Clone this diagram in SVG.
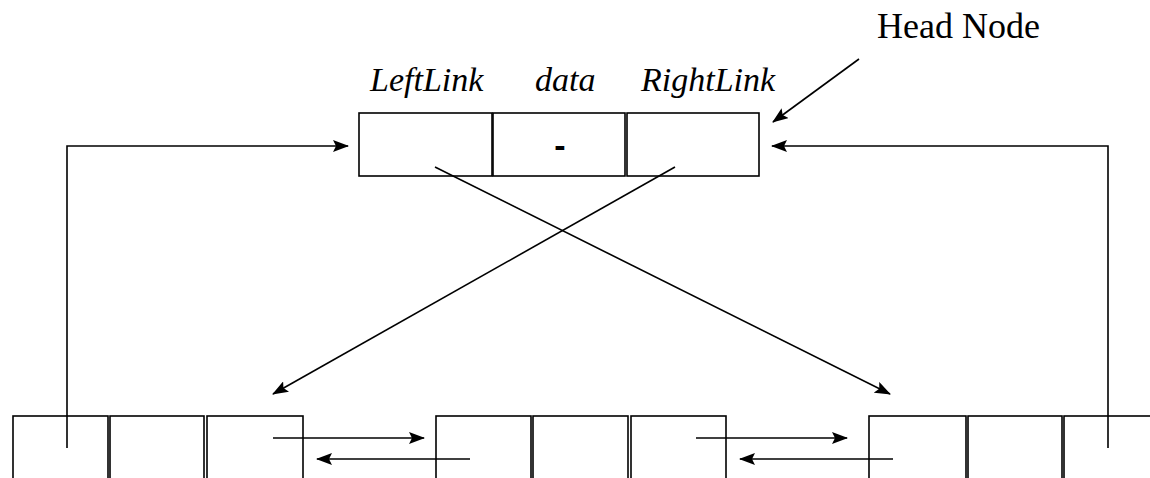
<svg xmlns="http://www.w3.org/2000/svg" width="1150" height="478" viewBox="0 0 1150 478">
  <style>
    .cell { fill: #fff; stroke: #000; stroke-width: 1.6; }
    .link { fill: none; stroke: #000; stroke-width: 1.6; }
    .lbl { font-family: "Liberation Serif", "Times New Roman", serif; font-style: italic; font-size: 34px; fill: #000; }
    .title { font-family: "Liberation Serif", "Times New Roman", serif; font-size: 36px; fill: #000; }
  </style>
  <defs>
    <marker id="arrow" markerWidth="16" markerHeight="12" refX="15" refY="6" orient="auto" markerUnits="userSpaceOnUse">
      <path d="M0,0 L16,6 L0,12 L3,6 Z" fill="#000"/>
    </marker>
  </defs>
  <rect width="1150" height="478" fill="#fff"/>

  <!-- field labels -->
  <text class="lbl" x="370" y="91">LeftLink</text>
  <text class="lbl" x="535" y="91">data</text>
  <text class="lbl" x="641" y="91">RightLink</text>
  <text class="title" x="877" y="38">Head Node</text>

  <!-- head node -->
  <g id="head-node">
    <rect class="cell" x="359" y="113" width="133" height="63"/>
    <rect class="cell" x="493" y="113" width="132" height="63"/>
    <rect class="cell" x="627" y="113" width="132" height="63"/>
    <text x="560" y="157" text-anchor="middle" font-family="Liberation Sans, Arial, sans-serif" font-weight="bold" font-size="34">-</text>
  </g>

  <!-- list nodes -->
  <g id="node-1">
    <rect class="cell" x="13" y="416" width="95" height="80"/>
    <rect class="cell" x="110" y="416" width="94" height="80"/>
    <rect class="cell" x="207" y="416" width="96" height="80"/>
  </g>
  <g id="node-2">
    <rect class="cell" x="436" y="416" width="95" height="80"/>
    <rect class="cell" x="533" y="416" width="95" height="80"/>
    <rect class="cell" x="631" y="416" width="95" height="80"/>
  </g>
  <g id="node-3">
    <rect class="cell" x="869" y="416" width="97" height="80"/>
    <rect class="cell" x="968" y="416" width="94" height="80"/>
    <rect class="cell" x="1064" y="416" width="100" height="80"/>
  </g>

  <!-- connectors -->
  <g id="connectors">
    <path class="link" d="M859,59 L773,122" marker-end="url(#arrow)"/>
    <path class="link" d="M67,448 L67,146 L348,146" marker-end="url(#arrow)"/>
    <path class="link" d="M1108,448 L1108,146 L772,146" marker-end="url(#arrow)"/>
    <path class="link" d="M435,167 L890,394" marker-end="url(#arrow)"/>
    <path class="link" d="M675,167 L273,394" marker-end="url(#arrow)"/>
    <path class="link" d="M273,438 L424,438" marker-end="url(#arrow)"/>
    <path class="link" d="M470,459 L317,459" marker-end="url(#arrow)"/>
    <path class="link" d="M696,438 L847,438" marker-end="url(#arrow)"/>
    <path class="link" d="M893,459 L740,459" marker-end="url(#arrow)"/>
  </g>
</svg>
